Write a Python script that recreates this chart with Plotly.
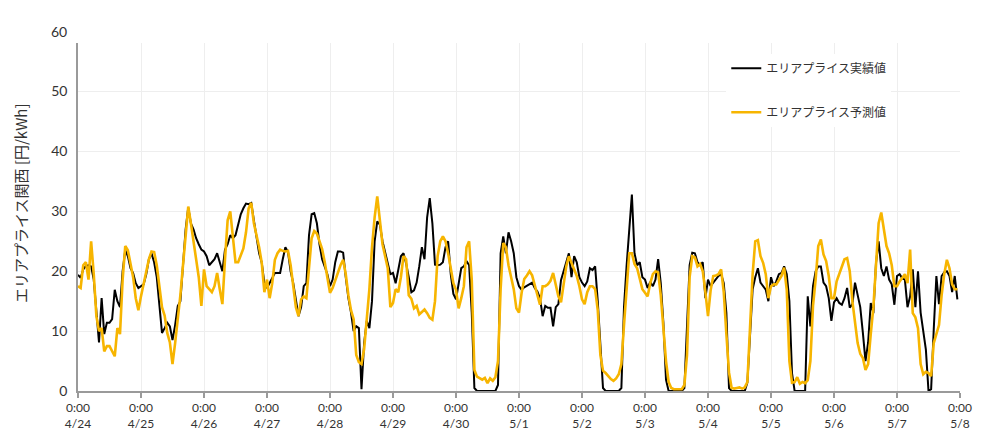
import pandas as pd
import plotly.graph_objects as go

# ---- data (hourly values, 4/24 0:00 .. 5/7 23:00) ----
date_labels = ["4/24", "4/25", "4/26", "4/27", "4/28", "4/29", "4/30",
               "5/1", "5/2", "5/3", "5/4", "5/5", "5/6", "5/7", "5/8"]

actual_price = [
    # 4/24
    19.4, 18.9, 20.3, 20.9, 21.0, 20.8, 18.6, 13.0, 8.1, 15.5, 9.5, 11.4, 11.4, 12.0, 16.9, 15.0, 14.0, 20.0, 23.5, 22.5, 20.5, 19.7, 18.0, 17.2,
    # 4/25
    17.5, 17.8, 19.5, 22.0, 23.0, 21.5, 19.0, 14.0, 9.7, 10.5, 11.4, 10.8, 8.5, 11.0, 14.2, 15.0, 20.8, 27.0, 30.6, 28.0, 27.0, 25.5, 24.5, 23.6,
    # 4/26
    23.3, 22.5, 21.0, 21.5, 22.0, 23.0, 21.5, 20.0, 23.6, 24.5, 26.0, 25.5, 26.0, 28.0, 29.5, 30.5, 31.3, 31.2, 31.4, 28.5, 25.5, 23.0, 21.4, 18.0,
    # 4/27
    17.2, 18.0, 19.0, 19.7, 19.7, 19.7, 22.0, 24.0, 23.2, 20.0, 18.0, 15.5, 12.5, 14.0, 17.5, 18.0, 26.0, 29.5, 29.7, 28.0, 24.5, 22.0, 20.9, 19.5,
    # 4/28
    17.5, 18.6, 21.5, 23.3, 23.3, 23.1, 19.0, 15.5, 13.1, 10.0, 10.8, 10.5, 0.3, 8.0, 11.7, 10.5, 15.0, 25.0, 28.3, 27.8, 25.0, 23.0, 21.0, 19.5,
    # 4/29
    19.7, 18.0, 20.2, 22.5, 23.0, 21.3, 19.0, 16.5, 16.8, 18.1, 20.8, 24.0, 22.0, 29.0, 32.2, 28.0, 21.1, 21.0, 21.1, 21.5, 24.0, 25.0, 19.5, 16.2,
    # 4/30
    15.3, 17.8, 20.5, 20.8, 21.7, 21.0, 13.1, 0.5, 0.0, 0.0, 0.0, 0.0, 0.0, 0.0, 0.0, 0.0, 1.0, 23.0, 25.8, 23.0, 26.5, 25.0, 23.0, 19.0,
    # 5/1
    17.5, 16.9, 17.3, 17.6, 17.8, 18.1, 17.2, 16.6, 15.5, 12.5, 14.2, 13.9, 13.9, 10.8, 14.0, 14.5, 18.5, 20.0, 21.5, 23.0, 19.0, 22.5, 21.5, 19.0,
    # 5/2
    18.1, 17.5, 18.3, 20.5, 20.2, 20.8, 15.0, 8.0, 0.5, 0.0, 0.0, 0.0, 0.0, 0.0, 0.0, 0.5, 14.0, 21.0, 27.0, 32.8, 23.0, 21.0, 21.5, 19.0,
    # 5/3
    18.6, 17.2, 18.2, 17.5, 18.6, 22.0, 18.0, 11.4, 1.9, 0.0, 0.0, 0.0, 0.0, 0.0, 0.0, 0.5, 12.0, 21.0, 23.1, 23.0, 21.5, 21.0, 21.5, 15.5,
    # 5/4
    18.6, 17.5, 18.1, 18.6, 19.2, 19.5, 18.0, 13.0, 0.5, 0.0, 0.0, 0.0, 0.0, 0.0, 0.0, 1.4, 10.3, 17.0, 19.0, 20.5, 18.1, 17.5, 16.9, 15.0,
    # 5/5
    19.0, 17.5, 18.3, 19.5, 19.7, 20.8, 19.5, 15.0, 3.0, 0.0, 0.0, 0.0, 0.0, 0.0, 15.8, 10.8, 17.5, 20.0, 20.8, 20.8, 18.1, 17.5, 15.5, 11.7,
    # 5/6
    14.8, 15.5, 14.7, 14.4, 15.5, 17.2, 13.9, 14.5, 18.1, 16.0, 14.0, 9.7, 5.0, 8.1, 14.7, 13.0, 21.4, 25.0, 20.5, 19.2, 20.8, 18.6, 17.8, 14.4,
    # 5/7
    19.2, 19.5, 18.8, 18.6, 14.0, 15.8, 20.3, 14.0, 20.0, 13.1, 10.0, 6.9, 0.0, 0.3, 10.3, 19.2, 14.5, 19.2, 19.8, 20.0, 19.2, 16.5, 19.2, 15.3,
]

forecast_price = [
    # 4/24
    17.5, 17.2, 21.0, 21.5, 18.6, 25.0, 19.5, 12.5, 10.0, 10.5, 6.6, 7.5, 7.5, 6.5, 5.8, 10.5, 9.5, 18.6, 24.2, 23.5, 21.5, 19.0, 15.5, 13.5,
    # 4/25
    15.8, 18.0, 20.0, 22.0, 23.3, 23.2, 21.0, 17.0, 14.0, 12.6, 9.7, 8.1, 4.5, 8.0, 11.5, 16.0, 21.0, 26.0, 30.8, 28.0, 25.0, 22.5, 19.0, 14.2,
    # 4/26
    20.3, 17.5, 17.0, 16.5, 17.5, 19.7, 17.0, 14.5, 22.0, 28.5, 30.0, 26.0, 21.5, 21.5, 22.8, 23.8, 26.5, 30.5, 31.4, 28.0, 26.0, 24.0, 21.4, 16.5,
    # 4/27
    18.6, 15.5, 18.0, 21.9, 23.0, 23.6, 23.4, 23.3, 23.4, 21.0, 17.5, 14.0, 12.5, 15.3, 15.8, 15.5, 20.5, 25.5, 26.7, 26.3, 25.0, 23.7, 21.5, 19.0,
    # 4/28
    16.4, 17.2, 18.5, 19.8, 21.0, 21.9, 19.5, 16.0, 13.5, 12.0, 6.0, 4.8, 4.5, 7.0, 12.0, 17.0, 24.0, 29.0, 32.5, 28.5, 24.5, 22.5, 20.5, 14.0,
    # 4/29
    14.7, 17.0, 16.5, 19.0, 22.5, 22.0, 16.0, 15.4, 13.8, 14.2, 12.8, 13.2, 13.6, 13.0, 12.2, 11.9, 15.0, 22.5, 25.0, 25.8, 25.0, 23.0, 20.5, 18.0,
    # 4/30
    16.9, 13.8, 15.5, 17.5, 24.0, 25.0, 18.6, 3.5, 2.4, 2.1, 1.9, 2.2, 1.3, 2.1, 1.7, 2.3, 5.0, 17.0, 24.7, 24.0, 21.0, 19.0, 17.0, 13.8,
    # 5/1
    13.1, 16.4, 18.7, 19.3, 20.0, 19.3, 17.8, 16.2, 14.4, 17.5, 17.5, 17.8, 18.4, 19.7, 17.5, 15.8, 14.8, 17.5, 20.8, 22.5, 21.4, 20.5, 19.2, 17.5,
    # 5/2
    15.3, 14.5, 16.5, 17.5, 17.5, 17.0, 13.5, 6.0, 3.4, 3.0, 2.5, 2.0, 1.7, 2.1, 2.8, 4.5, 11.0, 18.0, 23.0, 23.0, 21.2, 20.5, 18.8, 17.0,
    # 5/3
    16.4, 15.8, 18.0, 19.5, 20.0, 19.8, 16.0, 10.0, 5.0, 1.5, 0.5, 0.3, 0.3, 0.3, 0.3, 1.0, 6.0, 19.0, 22.5, 22.3, 20.8, 21.2, 20.0, 16.5,
    # 5/4
    12.5, 16.8, 19.2, 19.3, 19.5, 20.3, 16.5, 9.5, 3.1, 0.5, 0.4, 0.5, 0.6, 0.4, 0.6, 1.5, 10.0, 19.5, 25.0, 25.2, 22.5, 21.4, 19.5, 15.5,
    # 5/5
    17.5, 17.8, 17.8, 18.5, 19.2, 20.6, 16.9, 5.0, 1.4, 1.5, 2.3, 1.2, 1.5, 1.3, 1.8, 5.0, 14.2, 18.6, 24.2, 25.3, 22.8, 21.7, 19.2, 15.5,
    # 5/6
    15.5, 18.3, 19.5, 20.8, 22.0, 22.2, 20.0, 15.0, 11.4, 8.0, 6.2, 5.5, 3.5, 4.5, 9.5, 14.0, 21.0, 28.0, 29.8, 27.0, 24.2, 23.0, 21.0, 17.5,
    # 5/7
    17.5, 18.3, 18.9, 19.5, 18.0, 23.6, 13.0, 12.3, 10.5, 4.5, 2.8, 3.2, 3.0, 2.5, 8.0, 9.5, 11.0, 16.0, 19.5, 21.9, 20.5, 17.8, 17.0, 17.0,
]

series_names = ["エリアプライス実績値", "エリアプライス予測値"]
y_title = "エリアプライス関西 [円/kWh]"
y_ticks = [0, 10, 20, 30, 40, 50]
y_top_label = 60

# ---- styling ----
BLACK = "#000000"
ORANGE = "#F7B500"
GRID = "#EEEEEE"
AXIS = "#9A9A9A"
TEXT = "#333333"
FONT = "Lato, 'Noto Sans CJK JP', sans-serif"
JP_FONT = "'Noto Sans CJK JP', sans-serif"
Y_MAX = 58.1
PAGE_OFFSET = 8  # default body margin of the html page
PLOT_TOP, PLOT_BOTTOM = 43, 391

times = pd.date_range("2024-04-24 00:00", periods=len(actual_price), freq="h")
day_ticks = pd.date_range("2024-04-24", periods=len(date_labels), freq="D")
tick_text = ["0:00<br>" + d for d in date_labels]

fig = go.Figure()
fig.add_trace(go.Scatter(
    x=times, y=actual_price, mode="lines", name=series_names[0],
    line=dict(color=BLACK, width=2), legendgroup="a",
))
fig.add_trace(go.Scatter(
    x=times, y=forecast_price, mode="lines", name=series_names[1],
    line=dict(color=ORANGE, width=2.6), legendgroup="b",
))

fig.update_layout(
    width=1000 - PAGE_OFFSET, height=445 - PAGE_OFFSET,
    margin=dict(l=78 - PAGE_OFFSET, r=40, t=PLOT_TOP - PAGE_OFFSET, b=445 - PLOT_BOTTOM),
    paper_bgcolor="white", plot_bgcolor="white",
    font=dict(family=FONT, size=13, color=TEXT),
    showlegend=True,
    legend=dict(
        x=0.735, y=0.969, xanchor="left", yanchor="top",
        bgcolor="white", borderwidth=0,
        font=dict(family=JP_FONT, size=12, color=TEXT),
        traceorder="grouped", tracegroupgap=25,
        itemwidth=30,
    ),
    xaxis=dict(
        range=[day_ticks[0], day_ticks[-1]],
        tickvals=day_ticks, ticktext=tick_text,
        showgrid=True, gridcolor=GRID, gridwidth=1,
        showline=True, linecolor=AXIS, linewidth=1.5,
        ticks="outside", ticklen=5, tickcolor=AXIS, tickwidth=1.5,
        tickfont=dict(family=FONT, size=12, color=TEXT),
        zeroline=False, fixedrange=True,
    ),
    yaxis=dict(
        range=[0, Y_MAX],
        tickvals=y_ticks,
        showgrid=True, gridcolor=GRID, gridwidth=1,
        showline=True, linecolor=AXIS, linewidth=1.5,
        ticks="outside", ticklen=6, tickcolor="rgba(0,0,0,0)",
        tickfont=dict(family=FONT, size=14, color=TEXT),
        zeroline=False, fixedrange=True,
    ),
    annotations=[
        dict(
            text=str(y_top_label), xref="paper", yref="paper",
            x=0, y=y_top_label / Y_MAX, xanchor="right", yanchor="middle",
            xshift=-9, showarrow=False,
            font=dict(family=FONT, size=14, color=TEXT),
        ),
        dict(
            text=y_title, xref="paper", yref="paper",
            x=0, y=(PLOT_BOTTOM - 203) / (PLOT_BOTTOM - PLOT_TOP),
            xanchor="center", yanchor="middle", xshift=-58,
            textangle=-90, showarrow=False,
            font=dict(family=JP_FONT, size=15, color=TEXT),
        ),
    ],
)

fig.write_html("out.html")
